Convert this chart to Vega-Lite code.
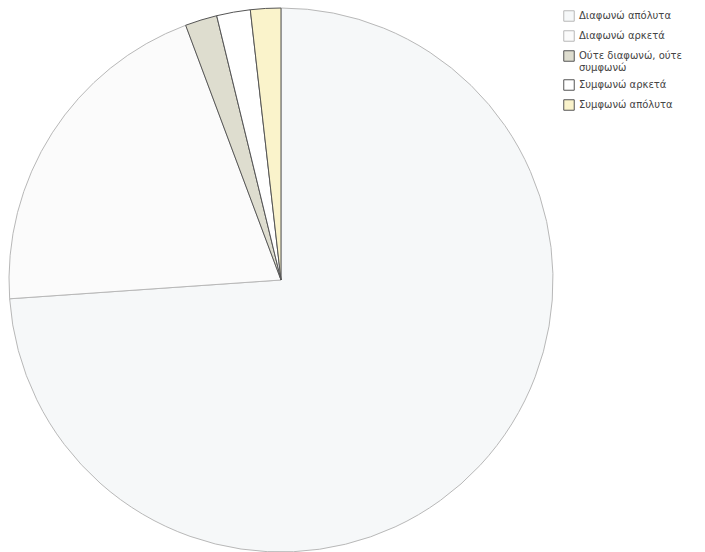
{
  "$schema": "https://vega.github.io/schema/vega-lite/v6.json",
  "autosize": "none",
  "width": 544,
  "height": 544,
  "padding": {"left": 9, "top": 8, "right": 152, "bottom": 0},
  "background": "white",
  "data": {
    "values": [
      {"answer": "Διαφωνώ απόλυτα", "order": 1, "value": 73.9},
      {"answer": "Διαφωνώ αρκετά", "order": 2, "value": 20.4},
      {"answer": "Ούτε διαφωνώ, ούτε\nσυμφωνώ", "order": 3, "value": 1.9},
      {"answer": "Συμφωνώ αρκετά", "order": 4, "value": 2.0},
      {"answer": "Συμφωνώ απόλυτα", "order": 5, "value": 1.8}
    ]
  },
  "mark": {"type": "arc", "outerRadius": 272, "strokeWidth": 1},
  "encoding": {
    "theta": {"field": "value", "type": "quantitative", "stack": true},
    "order": {"field": "order", "type": "quantitative"},
    "color": {
      "field": "answer",
      "type": "nominal",
      "sort": {"field": "order"},
      "scale": {
        "domain": ["Διαφωνώ απόλυτα", "Διαφωνώ αρκετά", "Ούτε διαφωνώ, ούτε\nσυμφωνώ", "Συμφωνώ αρκετά", "Συμφωνώ απόλυτα"],
        "range": ["#f6f8f9", "#fbfbfb", "#deddcf", "#ffffff", "#faf3cb"]
      },
      "legend": {
        "title": null,
        "orient": "none",
        "legendX": 554,
        "legendY": 2,
        "symbolType": "square",
        "symbolSize": 110,
        "symbolStrokeWidth": 1,
        "labelFont": "DejaVu Sans",
        "labelFontSize": 10,
        "labelColor": "#444444",
        "labelLimit": 200,
        "labelOffset": 4,
        "rowPadding": 4,
        "labelExpr": "split(datum.label, '\\n')"
      }
    },
    "stroke": {
      "field": "answer",
      "type": "nominal",
      "sort": {"field": "order"},
      "scale": {
        "domain": ["Διαφωνώ απόλυτα", "Διαφωνώ αρκετά", "Ούτε διαφωνώ, ούτε\nσυμφωνώ", "Συμφωνώ αρκετά", "Συμφωνώ απόλυτα"],
        "range": ["#b8b8b8", "#b8b8b8", "#555555", "#555555", "#555555"]
      },
      "legend": {
        "title": null,
        "orient": "none",
        "legendX": 554,
        "legendY": 2,
        "symbolType": "square",
        "symbolSize": 110,
        "labelFont": "DejaVu Sans",
        "labelFontSize": 10,
        "labelColor": "#444444",
        "labelLimit": 200,
        "labelOffset": 4,
        "rowPadding": 4,
        "labelExpr": "split(datum.label, '\\n')"
      }
    }
  },
  "config": {"view": {"stroke": null}}
}
